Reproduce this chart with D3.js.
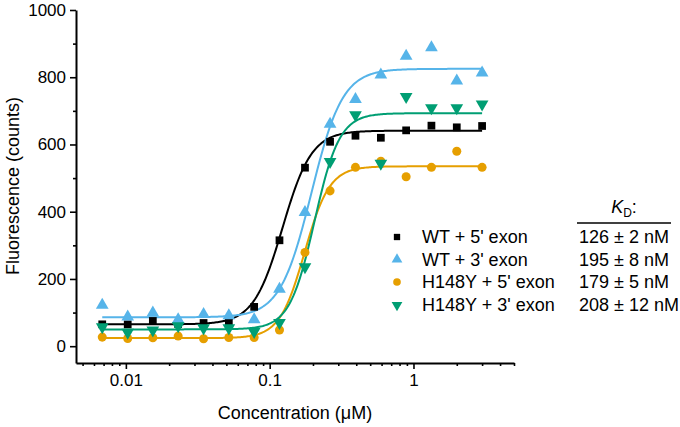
<!DOCTYPE html>
<html>
<head>
<meta charset="utf-8">
<script src="https://cdn.jsdelivr.net/npm/d3@7"></script>
<style>
  html, body { margin: 0; padding: 0; background: #fff; }
  svg { display: block; }
  text { font-family: "Liberation Sans", Arial, Helvetica, sans-serif; fill: #000; }
</style>
</head>
<body>
<svg id="chart" width="680" height="427"></svg>
<script>
// ---- data ----
const concentrations = [0.00685, 0.0103, 0.0154, 0.0231, 0.0347, 0.052, 0.078, 0.117, 0.176, 0.263, 0.395, 0.593, 0.889, 1.333, 2.0, 3.0];
const seriesNames = ["WT + 5' exon", "WT + 3' exon", "H148Y + 5' exon", "H148Y + 3' exon"];
const kdLabels = ["126 \u00b1 2 nM", "195 \u00b1 8 nM", "179 \u00b1 5 nM", "208 \u00b1 12 nM"];
const wt5 = [65, 65, 75, 66, 69, 70, 117, 315, 531, 608, 626, 620, 642, 656, 651, 655];
const wt3 = [122, 87, 99, 79, 95, 91, 79, 170, 398, 661, 734, 807, 863, 888, 789, 813];
const h5 = [27, 23, 25, 30, 22, 26, 26, 48, 279, 462, 532, 550, 504, 532, 580, 532];
const h3 = [57, 41, 48, 60, 54, 54, 43, 70, 236, 549, 688, 544, 742, 709, 709, 720];
// Hill fit parameters per series: [bottom, top, K (uM), n]
const fitWT5 = [65, 641, 0.123, 4.3];
const fitWT3 = [86, 825, 0.195, 4.0];
const fitH5 = [24, 535, 0.175, 5.0];
const fitH3 = [50, 693, 0.205, 5.0];
const yTicks = [0, 200, 400, 600, 800, 1000];
const yMinorTicks = [100, 300, 500, 700, 900];
const xTicks = [0.01, 0.1, 1];
const xTickLabels = ["0.01", "0.1", "1"];
const xMinorTicks = [0.005, 0.006, 0.007, 0.008, 0.009, 0.02, 0.03, 0.04, 0.05, 0.06, 0.07, 0.08, 0.09, 0.2, 0.3, 0.4, 0.5, 0.6, 0.7, 0.8, 0.9, 2, 3, 4, 5];

// ---- styles ----
const colors = ["#000000", "#56B4E9", "#E69F00", "#009E73"];
const symbols = [d3.symbolSquare, d3.symbolTriangle, d3.symbolCircle, d3.symbolTriangle];
const rotations = [0, 0, 0, 180];
const sizes = [60, 70, 64, 70];
const legendSizes = [40, 50, 46, 50];

const series = [wt5, wt3, h5, h3].map((vals, i) => ({
  name: seriesNames[i], kd: kdLabels[i], values: vals,
  fit: [fitWT5, fitWT3, fitH5, fitH3][i],
  color: colors[i], symbol: symbols[i], rot: rotations[i], size: sizes[i], lsize: legendSizes[i]
}));

const svg = d3.select("#chart");
const x = d3.scaleLog().domain([0.0045, 5]).range([76, 514]);
const y = d3.scaleLinear().domain([-50, 1000]).range([363, 10]);

// ---- axes ----
const yAxis = svg.append("g").attr("transform", `translate(${x.range()[0]},0)`)
  .call(d3.axisLeft(y).tickValues(yTicks).tickSize(6).tickSizeOuter(0).tickPadding(4).tickFormat(d3.format("d")));
svg.append("g").attr("transform", `translate(${x.range()[0]},0)`)
  .call(d3.axisLeft(y).tickValues(yMinorTicks).tickSize(3).tickSizeOuter(0).tickFormat(""))
  .select(".domain").remove();

const xAxis = svg.append("g").attr("transform", `translate(0,${y.range()[0]})`)
  .call(d3.axisBottom(x).tickValues(xTicks).tickSize(6).tickSizeOuter(0).tickPadding(5)
    .tickFormat((d, i) => xTickLabels[i]));
svg.append("g").attr("transform", `translate(0,${y.range()[0]})`)
  .call(d3.axisBottom(x).tickValues(xMinorTicks).tickSize(3).tickSizeOuter(0).tickFormat(""))
  .select(".domain").remove();

svg.selectAll(".domain").attr("stroke", "#000").attr("stroke-width", 2);
svg.selectAll(".tick line").attr("stroke", "#000").attr("stroke-width", 1.6);
svg.selectAll(".tick text").attr("font-size", 17).attr("font-family", "Liberation Sans, Arial, sans-serif").attr("fill", "#000");

// axis titles
svg.append("text").attr("x", 295).attr("y", 419).attr("text-anchor", "middle")
  .attr("font-size", 18).text("Concentration (\u03bcM)");
svg.append("text").attr("transform", "translate(19,186) rotate(-90)").attr("text-anchor", "middle")
  .attr("font-size", 18).text("Fluorescence (counts)");

// ---- fit curves ----
const hill = (p, c) => p[0] + (p[1] - p[0]) * Math.pow(c, p[3]) / (Math.pow(p[2], p[3]) + Math.pow(c, p[3]));
const cMin = d3.min(concentrations), cMax = d3.max(concentrations);
const grid = d3.range(0, 301).map(i => cMin * Math.pow(cMax / cMin, i / 300));
const line = d3.line().x(d => x(d[0])).y(d => y(d[1]));

series.forEach(s => {
  svg.append("path")
    .attr("d", line(grid.map(c => [c, hill(s.fit, c)])))
    .attr("fill", "none").attr("stroke", s.color).attr("stroke-width", 2);
});

// ---- points ----
series.forEach(s => {
  svg.append("g").selectAll("path").data(s.values).join("path")
    .attr("d", d3.symbol().type(s.symbol).size(s.size))
    .attr("transform", (d, i) => `translate(${x(concentrations[i])},${y(d)}) rotate(${s.rot})`)
    .attr("fill", s.color);
});

// ---- legend ----
const rowY = [237, 259.5, 282, 305];
series.forEach((s, i) => {
  svg.append("path")
    .attr("d", d3.symbol().type(s.symbol).size(s.lsize))
    .attr("transform", `translate(397,${rowY[i]}) rotate(${s.rot})`)
    .attr("fill", s.color);
  svg.append("text").attr("x", 422).attr("y", rowY[i]).attr("dy", "0.35em")
    .attr("font-size", 18).text(s.name);
  svg.append("text").attr("x", 579).attr("y", rowY[i]).attr("dy", "0.35em")
    .attr("font-size", 18).text(s.kd);
});

// K_D header
const hdr = svg.append("text").attr("x", 624).attr("y", 213).attr("text-anchor", "middle").attr("font-size", 18);
hdr.append("tspan").attr("font-style", "italic").text("K");
hdr.append("tspan").attr("font-size", 12).attr("dy", 4).text("D");
hdr.append("tspan").attr("dy", -4).text(":");
svg.append("line").attr("x1", 577).attr("x2", 671).attr("y1", 223).attr("y2", 223)
  .attr("stroke", "#000").attr("stroke-width", 1.5);
</script>
</body>
</html>
